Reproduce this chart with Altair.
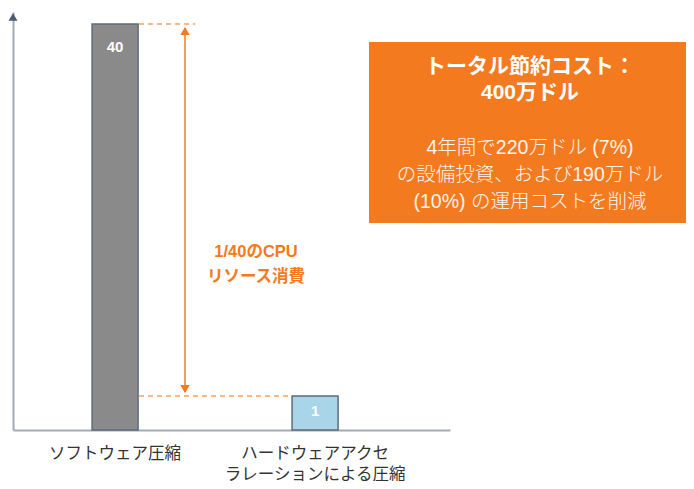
import altair as alt
import pandas as pd

# ---- data ----
categories = ["ソフトウェア圧縮", "ハードウェアアクセ\nラレーションによる圧縮"]
values = [40, 1]
bar_colors = ["#8A8A8A", "#A9D5E8"]
value_labels = ["40", "1"]
box_title = ["トータル節約コスト：", "400万ドル"]
box_body = ["4年間で220万ドル (7%)", "の設備投資、および190万ドル", "(10%) の運用コストを削減"]
arrow_label = ["1/40のCPU", "リソース消費"]

FONT = "'Liberation Sans', 'Noto Sans CJK JP', sans-serif"
ORANGE = "#F47A20"
DASH = "#F6A25A"

df = pd.DataFrame({"cat": categories, "value": values, "color": bar_colors, "label": value_labels})
span = pd.DataFrame({"top": [values[0]], "bottom": [values[1]]})

xscale = alt.Scale(domain=categories, paddingInner=0.77, paddingOuter=0.4775, align=0.414)
yscale = alt.Scale(type="pow", exponent=0.673, domain=[0, 41.77], nice=False, zero=True)

xenc = alt.X(
    "cat:N", scale=xscale, sort=categories,
    axis=alt.Axis(title=None, labelAngle=0, labelExpr="split(datum.label, '\\n')",
                  ticks=False, domainColor="#A3ABB8", domainWidth=2,
                  labelFont=FONT, labelFontSize=16.5, labelColor="#333333",
                  labelPadding=23, labelLineHeight=21, labelBaseline="middle",
                  labelLimit=400, labelOverlap=False))
yenc = alt.Y("value:Q", scale=yscale,
             axis=alt.Axis(title=None, labels=False, ticks=False, grid=False,
                           domainColor="#A3ABB8", domainWidth=2))

base = alt.Chart(df)

bars = base.mark_bar(stroke="#5E6B7D", strokeWidth=1.5).encode(
    x=xenc, y=yenc, color=alt.Color("color:N", scale=None))

lab40 = base.transform_filter("datum.value == 40").mark_text(
    font=FONT, fontSize=15, fontWeight="bold", color="white", dy=23).encode(
    x=alt.X("cat:N", scale=xscale, sort=categories), y=alt.Y("value:Q", scale=yscale), text="label:N")
lab1 = base.transform_filter("datum.value == 1").mark_text(
    font=FONT, fontSize=15, fontWeight="bold", color="white", dy=15).encode(
    x=alt.X("cat:N", scale=xscale, sort=categories), y=alt.Y("value:Q", scale=yscale), text="label:N")

dash_top = base.transform_filter("datum.value == 40").mark_rule(
    color=DASH, strokeDash=[5, 4], strokeWidth=1.5).encode(
    y=alt.Y("value:Q", scale=yscale), x=alt.value(126), x2=alt.value(182))
dash_bot = base.transform_filter("datum.value == 1").mark_rule(
    color=DASH, strokeDash=[5, 4], strokeWidth=1.5).encode(
    y=alt.Y("value:Q", scale=yscale), x=alt.value(126), x2=alt.value(279))

arrow_line = alt.Chart(span).mark_rule(color=ORANGE, strokeWidth=1.5, yOffset=4, y2Offset=-4).encode(
    x=alt.value(172), y=alt.Y("top:Q", scale=yscale), y2="bottom:Q")
head_up = base.transform_filter("datum.value == 40").mark_point(
    shape="triangle-up", filled=True, size=90, color=ORANGE, opacity=1, yOffset=7).encode(
    x=alt.value(172), y=alt.Y("value:Q", scale=yscale))
head_down = base.transform_filter("datum.value == 1").mark_point(
    shape="triangle-down", filled=True, size=90, color=ORANGE, opacity=1, yOffset=-7).encode(
    x=alt.value(172), y=alt.Y("value:Q", scale=yscale))

one = pd.DataFrame({"a": [0]})
yaxis_head = alt.Chart(one).mark_point(
    shape="triangle-up", filled=True, size=80, color="#4B5A70", opacity=1).encode(
    x=alt.value(0), y=alt.value(5))

arrow_text = alt.Chart(one).mark_text(
    font=FONT, fontSize=16.5, fontWeight="bold", color=ORANGE, lineHeight=25,
    text=arrow_label, baseline="middle").encode(x=alt.value(243), y=alt.value(240))

box = alt.Chart(one).mark_rect(color=ORANGE).encode(
    x=alt.value(356), x2=alt.value(673), y=alt.value(30), y2=alt.value(211))
title_text = alt.Chart(one).mark_text(
    font=FONT, fontSize=21, fontWeight="bold", color="white", lineHeight=26,
    text=box_title, baseline="middle").encode(x=alt.value(517), y=alt.value(55))
body_text = alt.Chart(one).mark_text(
    font=FONT, fontSize=19.5, fontWeight=300, color="#FFF4EC", lineHeight=27,
    text=box_body, baseline="middle").encode(x=alt.value(517), y=alt.value(136))

chart = alt.layer(
    bars, lab40, lab1, dash_top, dash_bot, arrow_line, head_up, head_down,
    yaxis_head, arrow_text, box, title_text, body_text
).properties(
    width=437, height=418,
    autosize=alt.AutoSizeParams(type="none"),
    padding={"left": 5, "top": 4, "right": 236, "bottom": 51},
).configure_view(stroke=None)

chart.save("out.html", embed_options={"renderer": "svg", "actions": False})
